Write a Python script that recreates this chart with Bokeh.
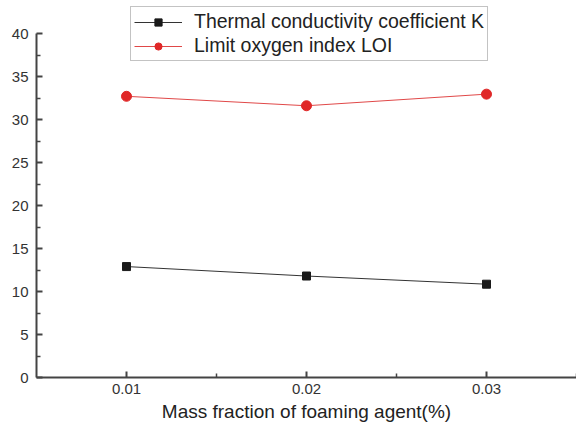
from bokeh.plotting import figure
from bokeh.models import Legend, LegendItem, FixedTicker, Range1d
from bokeh.embed import file_html
from bokeh.resources import INLINE

x_vals = [0.01, 0.02, 0.03]
k_vals = [12.9, 11.8, 10.85]
loi_vals = [32.7, 31.6, 32.95]
x_ticks = [0.01, 0.02, 0.03]
x_minor = [0.015, 0.025, 0.035]
y_ticks = [0, 5, 10, 15, 20, 25, 30, 35, 40]
y_minor = [2.5, 7.5, 12.5, 17.5, 22.5, 27.5, 32.5, 37.5]

p = figure(width=576, height=425, output_backend="svg", toolbar_location=None,
           x_range=Range1d(0.005, 0.035), y_range=Range1d(0, 43.84),
           min_border_left=36, min_border_right=0, min_border_top=0, min_border_bottom=48)
p.outline_line_color = None
p.xgrid.visible = False
p.ygrid.visible = False
p.background_fill_color = "white"
p.border_fill_color = "white"

r1l = p.line(x_vals, k_vals, line_color="#333333", line_width=1)
r1m = p.scatter(x_vals, k_vals, marker="square", size=8, fill_color="#1a1a1a", line_color="#1a1a1a")
r2l = p.line(x_vals, loi_vals, line_color="#e04848", line_width=1)
r2m = p.scatter(x_vals, loi_vals, marker="circle", size=10, fill_color="#e02828", line_color="#e02828")

for ax in (p.xaxis[0], p.yaxis[0]):
    ax.axis_line_color = "#444444"
    ax.axis_line_width = 2
    ax.major_tick_line_color = "#444444"
    ax.minor_tick_line_color = "#444444"
    ax.major_tick_line_width = 2
    ax.minor_tick_line_width = 1.5
    ax.major_tick_in = 6
    ax.major_tick_out = 0
    ax.minor_tick_in = 4
    ax.minor_tick_out = 0
    ax.major_label_text_font = "Liberation Sans"
    ax.major_label_text_font_size = "15px"
    ax.major_label_text_color = "#333333"

p.yaxis.bounds = (0, 40)
p.xaxis.ticker = FixedTicker(ticks=x_ticks, minor_ticks=x_minor)
p.yaxis.ticker = FixedTicker(ticks=y_ticks, minor_ticks=y_minor)
p.xaxis.major_label_standoff = 6
p.yaxis.major_label_standoff = 8
p.xaxis.axis_label = "Mass fraction of foaming agent(%)"
p.xaxis.axis_label_text_font = "Liberation Sans"
p.xaxis.axis_label_text_font_style = "normal"
p.xaxis.axis_label_text_font_size = "19px"
p.xaxis.axis_label_text_color = "#222222"
p.xaxis.axis_label_standoff = 4

legend = Legend(items=[
    LegendItem(label="Thermal conductivity coefficient K", renderers=[r1l, r1m]),
    LegendItem(label="Limit oxygen index LOI", renderers=[r2l, r2m]),
], location=(94, 316))
legend.label_text_font = "Liberation Sans"
legend.label_text_font_size = "19.5px"
legend.label_text_color = "#222222"
legend.border_line_color = "#888888"
legend.border_line_width = 1
legend.background_fill_alpha = 1
legend.glyph_width = 48
legend.glyph_height = 18
legend.label_height = 18
legend.spacing = 1
legend.padding = 3
legend.margin = 0
legend.label_standoff = 12
p.add_layout(legend, "center")

open("out.html", "w").write(file_html(p, INLINE))
